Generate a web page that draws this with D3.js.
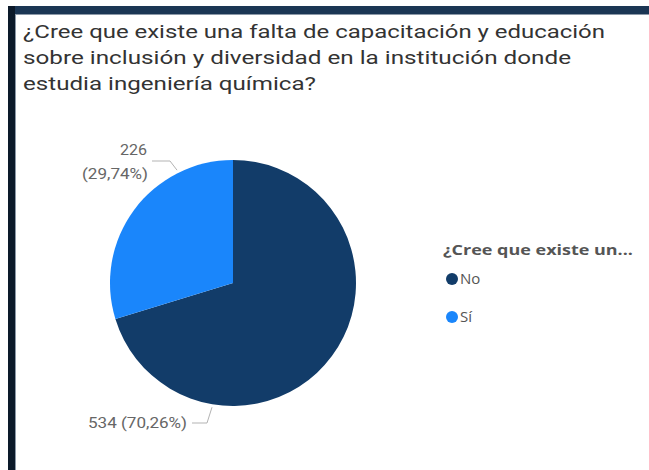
<!DOCTYPE html>
<html>
<head>
<meta charset="utf-8">
<script src="https://cdn.jsdelivr.net/npm/d3@7"></script>
<style>
  body { margin: 0; background: #fff; }
  svg { display: block; }
</style>
</head>
<body>
<svg id="chart"></svg>
<script>
var titleLines = [
  "¿Cree que existe una falta de capacitación y educación",
  "sobre inclusión y diversidad en la institución donde",
  "estudia ingeniería química?"
];
var titleEnds = [605, 571, 316];
var categories = ["No", "Sí"];
var counts = [534, 226];
var percents = ["70,26%", "29,74%"];
var colors = ["#123c69", "#1a86fb"];
var legendTitle = "¿Cree que existe un...";

var width = 649, height = 470;
var svg = d3.select("#chart").attr("width", width).attr("height", height);

// frame: dark strips top and left
svg.append("rect").attr("x", 8).attr("y", 6).attr("width", width - 8).attr("height", 8).attr("fill", "#1b3654");
svg.append("rect").attr("x", 8).attr("y", 6).attr("width", 7).attr("height", height - 6).attr("fill", "#0c1a2a");
svg.append("rect").attr("x", 15).attr("y", 14).attr("width", width - 15).attr("height", 1).attr("fill", "#8c99a8");
svg.append("rect").attr("x", 15).attr("y", 14).attr("width", 1).attr("height", height - 14).attr("fill", "#8c99a8");

// title
svg.selectAll("text.title")
  .data(titleLines)
  .enter().append("text")
  .attr("class", "title")
  .attr("x", 23)
  .attr("y", (d, i) => 38 + i * 26)
  .attr("textLength", (d, i) => titleEnds[i] - 23)
  .attr("lengthAdjust", "spacingAndGlyphs")
  .style("font-family", "Roboto, 'DejaVu Sans', sans-serif")
  .style("font-size", "19px")
  .attr("fill", "#333")
  .text(d => d);

// pie
var cx = 233, cy = 283, r = 123;
var data = categories.map((c, i) => ({ cat: c, value: counts[i], pct: percents[i], color: colors[i] }));
var pie = d3.pie().sort(null).value(d => d.value);
var arc = d3.arc().innerRadius(0).outerRadius(r);
var arcs = pie(data);

var g = svg.append("g").attr("transform", "translate(" + cx + "," + cy + ")");
g.selectAll("path")
  .data(arcs)
  .enter().append("path")
  .attr("d", arc)
  .attr("fill", d => d.data.color);

// data labels with leader lines (leader anchored on the slice edge)
var labelFont = "Roboto, 'DejaVu Sans', sans-serif";
function edgeAt(targetX, bottom) {
  var dx = targetX - cx;
  var dy = Math.sqrt((r + 3) * (r + 3) - dx * dx);
  return [dx, bottom ? dy : -dy];
}
function lbl(x, y, txt, len) {
  g.append("text")
    .attr("x", x - cx).attr("y", y - cy)
    .attr("text-anchor", "end")
    .attr("textLength", len)
    .attr("lengthAdjust", "spacingAndGlyphs")
    .style("font-family", labelFont).style("font-size", "15px")
    .attr("fill", "#666")
    .text(txt);
}
// No (bottom)
var pNo = edgeAt(212, true);
g.append("polyline")
  .attr("points", [pNo, [207 - cx, 423 - cy], [192 - cx, 423 - cy]].map(p => p.join(",")).join(" "))
  .attr("fill", "none").attr("stroke", "#b3b3b3").attr("stroke-width", 1);
lbl(187, 428, data[0].value + " (" + data[0].pct + ")", 99);

// Sí (top left)
var pSi = edgeAt(177, false);
g.append("polyline")
  .attr("points", [pSi, [170 - cx, 161 - cy], [152 - cx, 161 - cy]].map(p => p.join(",")).join(" "))
  .attr("fill", "none").attr("stroke", "#b3b3b3").attr("stroke-width", 1);
lbl(147, 155, String(data[1].value), 27);
lbl(148, 179, "(" + data[1].pct + ")", 66);

// legend
var legend = svg.append("g").attr("transform", "translate(443,0)");
legend.append("text")
  .attr("x", 0).attr("y", 255)
  .attr("textLength", 190)
  .attr("lengthAdjust", "spacingAndGlyphs")
  .style("font-family", "'Open Sans', sans-serif").style("font-size", "14px").style("font-weight", "bold")
  .attr("fill", "#555")
  .text(legendTitle);
var items = legend.selectAll("g.item")
  .data(data)
  .enter().append("g")
  .attr("class", "item")
  .attr("transform", (d, i) => "translate(0," + (279 + i * 38) + ")");
items.append("circle").attr("cx", 9).attr("cy", 0).attr("r", 6).attr("fill", d => d.color);
items.append("text")
  .attr("x", 17).attr("y", 5)
  .style("font-family", "'Open Sans', sans-serif").style("font-size", "15px")
  .attr("fill", "#555")
  .text(d => d.cat);
</script>
</body>
</html>
